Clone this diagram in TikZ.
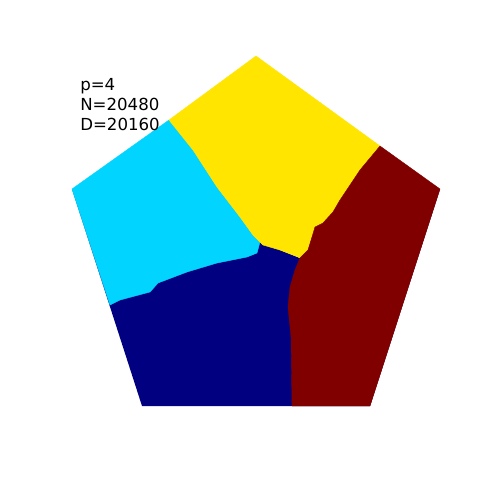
\documentclass[tikz,border=0pt]{standalone}
\usepackage{fontspec}
\setmainfont{DejaVu Sans}
\usepackage{xcolor}
\usetikzlibrary{positioning}

\definecolor{jetnavy}{RGB}{0,0,128}
\definecolor{jetcyan}{RGB}{0,212,255}
\definecolor{jetyellow}{RGB}{255,229,0}
\definecolor{jetred}{RGB}{128,0,0}

\begin{document}
\begin{tikzpicture}[
  x=0.0254cm, y=-0.0254cm,
  region/.style={line join=round, line width=0.3pt},
  info/.style={inner sep=0pt, align=left, font=\fontsize{12}{14.4}\selectfont}
]
  \useasboundingbox (0,0) rectangle (500,500);

  % pentagon corners
  \coordinate (vtop) at (256,56);
  \coordinate (vright) at (440,189);
  \coordinate (vbr) at (370,406);
  \coordinate (vbl) at (142,406);
  \coordinate (vleft) at (72,189);
  % triple points
  \coordinate (j1) at (260,242);
  \coordinate (j2) at (300,258);

  % navy cell (lower part of the pentagon first)
  \fill[region, jetnavy] (vleft) -- (vbl) -- (vbr) -- (vright) -- (j2) -- (j1) -- cycle;

  % cyan cell
  \filldraw[region, jetcyan] (vleft) -- (169,120) -- (193,150) -- (217,187) -- (240,217)
    -- (253,235) -- (j1) -- (257,253) -- (247,257) -- (217,263) -- (187,272)
    -- (158,283) -- (150,292) -- (120,300) -- (110,305) -- cycle;

  % yellow cell
  \filldraw[region, jetyellow] (169,120) -- (vtop) -- (380,146) -- (360,170) -- (340,200)
    -- (333,212) -- (323,223) -- (315,227) -- (312,237) -- (308,250) -- (j2)
    -- (298,257) -- (280,250) -- (263,245) -- (j1) -- (253,235) -- (240,217)
    -- (217,187) -- (193,150) -- cycle;

  % red cell
  \filldraw[region, jetred] (380,146) -- (vright) -- (vbr) -- (292,406) -- (291,337)
    -- (288,307) -- (290,287) -- (295,270) -- (j2) -- (308,250) -- (312,237)
    -- (315,227) -- (323,223) -- (333,212) -- (340,200) -- (360,170) -- cycle;

  \node[info, anchor=north west] (lbl) at (80,78) {p=4\\N=20480\\D=20160};
\end{tikzpicture}
\end{document}
